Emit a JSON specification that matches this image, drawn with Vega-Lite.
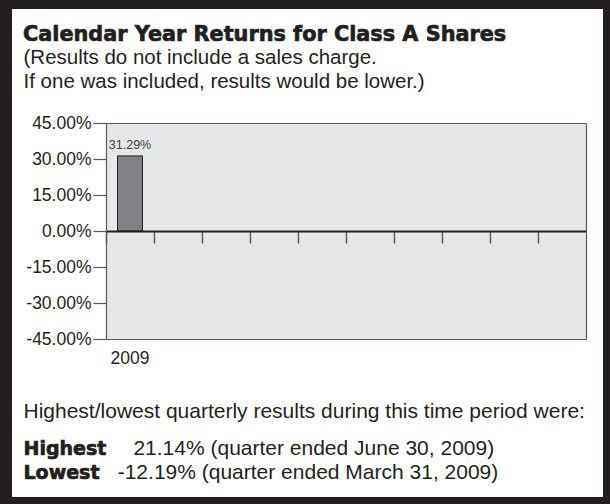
{
  "$schema": "https://vega.github.io/schema/vega-lite/v6.json",
  "width": 591,
  "height": 488,
  "autosize": "none",
  "padding": {"left": 12, "top": 9, "right": 7, "bottom": 7},
  "background": "#231f20",
  "config": {
    "view": {"fill": "white", "stroke": null},
    "axis": {"labelFont": "Liberation Sans", "titleFont": "Liberation Sans", "labelFontSize": 17.5, "labelColor": "#231f20"},
    "text": {"font": "Liberation Sans"}
  },
  "datasets": {
    "returns": [
      {"year": "2009", "return": 31.29, "label": "31.29%"},
      {"year": "2010", "return": null, "label": ""},
      {"year": "2011", "return": null, "label": ""},
      {"year": "2012", "return": null, "label": ""},
      {"year": "2013", "return": null, "label": ""},
      {"year": "2014", "return": null, "label": ""},
      {"year": "2015", "return": null, "label": ""},
      {"year": "2016", "return": null, "label": ""},
      {"year": "2017", "return": null, "label": ""},
      {"year": "2018", "return": null, "label": ""}
    ],
    "notes": [
      {"line": "title", "col": "left", "part": "title", "text": "Calendar Year Returns for Class A Shares"},
      {"line": "sub1", "col": "left", "part": "note", "text": "(Results do not include a sales charge."},
      {"line": "sub2", "col": "left", "part": "note", "text": "If one was included, results would be lower.)"},
      {"line": "intro", "col": "left", "part": "intro", "text": "Highest/lowest quarterly results during this time period were:"},
      {"line": "high", "col": "left", "part": "label", "text": "Highest"},
      {"line": "high", "col": "pos", "part": "value", "text": "21.14% (quarter ended June 30, 2009)"},
      {"line": "low", "col": "left", "part": "label", "text": "Lowest"},
      {"line": "low", "col": "neg", "part": "value", "text": "-12.19% (quarter ended March 31, 2009)"}
    ]
  },
  "layer": [
    {
      "data": {"name": "returns"},
      "layer": [
        {
          "mark": {"type": "rect", "fill": "#e6e7e8", "stroke": null},
          "encoding": {
            "x": {
              "field": "year", "type": "nominal",
              "scale": {"type": "band", "domain": ["2009","2010","2011","2012","2013","2014","2015","2016","2017","2018"], "range": [94, 574], "paddingInner": 0, "paddingOuter": 0},
              "axis": {"orient": "bottom", "offset": -158, "title": null, "ticks": false, "tickSize": 0, "labelPadding": 10, "labelFontSize": 17.5, "labelColor": "#231f20", "labelAngle": 0, "labelExpr": "datum.value == '2009' ? '2009' : ''", "domain": true, "domainColor": "#58595b", "domainWidth": 1.2, "grid": false, "zindex": 1}
            },
            "y": {
              "datum": -45, "type": "quantitative",
              "scale": {"domain": [-45, 45], "range": [330, 114], "nice": false, "zero": false},
              "axis": {"orient": "left", "offset": -94, "title": null, "values": [-45, -30, -15, 0, 15, 30, 45], "labelExpr": "(datum.value < 0 ? '-' : '') + format(abs(datum.value), '.2f') + '%'", "labelFontSize": 17.5, "labelColor": "#231f20", "labelPadding": 2, "labelLimit": 200, "tickSize": 13, "tickColor": "#58595b", "tickWidth": 1.2, "domainColor": "#58595b", "domainWidth": 1.2, "grid": false, "zindex": 1}
            },
            "y2": {"datum": 45}
          }
        },
        {
          "transform": [{"filter": "isValid(datum.return)"}],
          "mark": {"type": "bar", "size": 25, "fill": "#808285", "stroke": "#231f20", "strokeWidth": 1},
          "encoding": {
            "x": {
              "field": "year", "type": "nominal",
              "scale": {"type": "band", "domain": ["2009","2010","2011","2012","2013","2014","2015","2016","2017","2018"], "range": [94, 574], "paddingInner": 0, "paddingOuter": 0},
              "axis": {"orient": "top", "offset": -114, "title": null, "ticks": false, "labels": false, "domain": true, "domainColor": "#58595b", "domainWidth": 1.2, "grid": false, "zindex": 1}
            },
            "y": {
              "field": "return", "type": "quantitative",
              "scale": {"domain": [-45, 45], "range": [330, 114], "nice": false, "zero": false},
              "axis": {"orient": "right", "offset": -17, "title": null, "ticks": false, "labels": false, "domain": true, "domainColor": "#58595b", "domainWidth": 1.2, "grid": false, "zindex": 1}
            }
          }
        },
        {
          "transform": [{"filter": "isValid(datum.return)"}],
          "mark": {"type": "text", "baseline": "alphabetic", "align": "center", "dy": -7, "fontSize": 12.5, "color": "#414042"},
          "encoding": {
            "x": {
              "field": "year", "type": "nominal",
              "scale": {"type": "band", "domain": ["2009","2010","2011","2012","2013","2014","2015","2016","2017","2018"], "range": [94, 574], "paddingInner": 0, "paddingOuter": 0},
              "axis": {"orient": "bottom", "offset": -266, "title": null, "labels": false, "bandPosition": 0, "ticks": true, "tickSize": 12, "tickColor": "#58595b", "tickWidth": 1.5, "domain": true, "domainColor": "#231f20", "domainWidth": 2, "grid": false, "zindex": 1}
            },
            "y": {
              "field": "return", "type": "quantitative",
              "scale": {"domain": [-45, 45], "range": [330, 114], "nice": false, "zero": false},
              "axis": null
            },
            "text": {"field": "label"}
          }
        }
      ],
      "resolve": {"axis": {"x": "independent", "y": "independent"}}
    },
    {
      "data": {"name": "notes"},
      "transform": [{"filter": "datum.part == 'title'"}],
      "mark": {"type": "text", "align": "left", "baseline": "alphabetic", "font": "DejaVu Sans", "fontWeight": "bold", "fontSize": 20.8, "color": "#231f20", "stroke": "#231f20", "strokeWidth": 0.7},
      "encoding": {
        "x": {"field": "col", "type": "nominal", "scale": {"type": "point", "domain": ["left", "c1", "c2", "c3", "c4", "c5", "neg", "pos"], "range": [11, 120.9], "padding": 0}, "axis": null},
        "y": {"field": "line", "type": "nominal", "scale": {"type": "point", "domain": ["title", "sub1", "sub2"], "range": [31.5, 78.5], "padding": 0}, "axis": null},
        "text": {"field": "text"}
      }
    },
    {
      "data": {"name": "notes"},
      "transform": [{"filter": "datum.part == 'note'"}],
      "mark": {"type": "text", "align": "left", "baseline": "alphabetic", "fontSize": 20.5, "color": "#231f20"},
      "encoding": {
        "x": {"field": "col", "type": "nominal", "scale": {"type": "point", "domain": ["left", "c1", "c2", "c3", "c4", "c5", "neg", "pos"], "range": [11.5, 121.4], "padding": 0}, "axis": null},
        "y": {"field": "line", "type": "nominal", "scale": {"type": "point", "domain": ["title", "sub1", "sub2"], "range": [31.5, 78.5], "padding": 0}, "axis": null},
        "text": {"field": "text"}
      }
    },
    {
      "data": {"name": "notes"},
      "transform": [{"filter": "datum.part == 'intro' || datum.part == 'value'"}],
      "mark": {"type": "text", "align": "left", "baseline": "alphabetic", "fontSize": 21, "color": "#231f20"},
      "encoding": {
        "x": {"field": "col", "type": "nominal", "scale": {"type": "point", "domain": ["left", "c1", "c2", "c3", "c4", "c5", "neg", "pos"], "range": [11.5, 121.4], "padding": 0}, "axis": null},
        "y": {"field": "line", "type": "nominal", "scale": {"type": "point", "domain": ["intro", "g1", "g2", "high", "g3", "low"], "range": [408.7, 470.2], "padding": 0}, "axis": null},
        "text": {"field": "text"}
      }
    },
    {
      "data": {"name": "notes"},
      "transform": [{"filter": "datum.part == 'label'"}],
      "mark": {"type": "text", "align": "left", "baseline": "alphabetic", "font": "DejaVu Sans", "fontWeight": "bold", "fontSize": 19, "color": "#231f20", "stroke": "#231f20", "strokeWidth": 0.7},
      "encoding": {
        "x": {"field": "col", "type": "nominal", "scale": {"type": "point", "domain": ["left", "c1", "c2", "c3", "c4", "c5", "neg", "pos"], "range": [11.5, 121.4], "padding": 0}, "axis": null},
        "y": {"field": "line", "type": "nominal", "scale": {"type": "point", "domain": ["intro", "g1", "g2", "high", "g3", "low"], "range": [408.7, 470.2], "padding": 0}, "axis": null},
        "text": {"field": "text"}
      }
    }
  ],
  "resolve": {"scale": {"x": "independent", "y": "independent"}}
}
